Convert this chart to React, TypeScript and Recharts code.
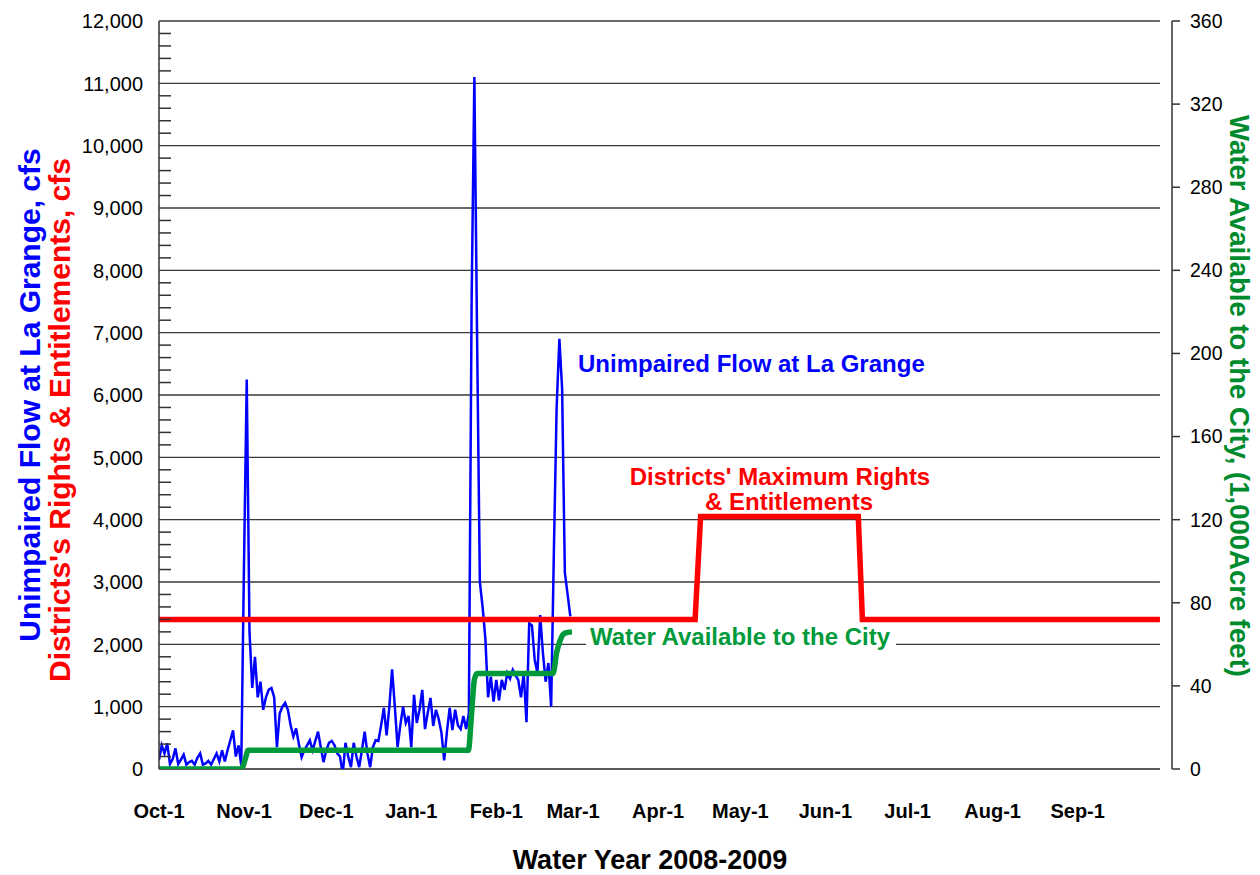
import React from 'react';
import { ComposedChart, Line, Area, XAxis, YAxis, ReferenceLine } from 'recharts';

document.body.style.margin = '0';

const FONT = '"Liberation Sans", Arial, Helvetica, sans-serif';

// x axis: days since Oct-1, water year 2008-2009
const monthTicks = [0, 31, 61, 92, 123, 151, 182, 212, 243, 273, 304, 335];
const monthLabels = ['Oct-1', 'Nov-1', 'Dec-1', 'Jan-1', 'Feb-1', 'Mar-1', 'Apr-1', 'May-1', 'Jun-1', 'Jul-1', 'Aug-1', 'Sep-1'];

// unimpaired flow at La Grange, cfs, one value per day from Oct-1
const flowCfs = [
  150, 380, 250, 410, 80, 160, 330, 80, 150, 230,
  70, 110, 130, 70, 180, 250, 70, 90, 130, 70,
  160, 250, 120, 300, 120, 300, 460, 620, 200, 380,
  60, 3300, 6250, 2200, 1300, 1800, 1150, 1400, 950, 1150,
  1270, 1300, 1150, 350, 890, 1000, 1060, 950, 700, 520,
  650, 400, 190, 300, 380, 460, 300, 450, 600, 350,
  110, 300, 420, 450, 380, 250, 200, -80, 420, 200,
  30, 420, 200, 30, 300, 600, 250, 30, 350, 460,
  450, 700, 980, 540, 1000, 1600, 1000, 350, 700, 1000,
  740, 850, 350, 1190, 740, 950, 1270, 640, 900, 1140,
  690, 950, 800, 580, 140, 600, 980, 625, 950, 700,
  640, 850, 640, 900, 7500, 11100, 6900, 3000, 2600, 2100,
  1150, 1480, 1080, 1430, 1100, 1430, 1270, 1540, 1450, 1590,
  1500, 1430, 1150, 1540, 750, 2340, 2300, 1750, 1540, 2470,
  1860, 1400, 1700, 1000, 3500, 5800, 6900, 6100, 3150, 2800,
  2450,
];

// districts' maximum rights & entitlements, cfs
const rightsDays = [0, 195.5, 197.5, 255, 256.5, 365];
const rightsCfs = [2400, 2400, 4050, 4050, 2400, 2400];

// water available to the city, 1,000 acre feet
const cityDays = [0, 30, 31.5, 32.5, 112.8, 114, 115, 116, 143.7, 145, 146.3, 148, 150.6];
const cityKaf = [0, 0, 5, 9, 9, 27, 43, 46, 46, 56, 62, 65.4, 66];

const leftMajorTicks = [0, 1000, 2000, 3000, 4000, 5000, 6000, 7000, 8000, 9000, 10000, 11000, 12000];
const rightTicks = [0, 40, 80, 120, 160, 200, 240, 280, 320, 360];

const leftAllTicks: number[] = [];
for (let v = 0; v <= 12000; v += 200) leftAllTicks.push(v);

const rowsByDay = new Map<number, any>();
const put = (day: number, key: string, v: number) => {
  const r = rowsByDay.get(day) ?? { day };
  r[key] = v;
  rowsByDay.set(day, r);
};
flowCfs.forEach((v, i) => put(i, 'flow', v));
rightsDays.forEach((d, i) => put(d, 'rights', rightsCfs[i]));
cityDays.forEach((d, i) => put(d, 'city', cityKaf[i]));
const chartData = [...rowsByDay.values()].sort((a, b) => a.day - b.day);

const LEFT_GAP = 16;

const LeftTick = (props: any) => {
  const { x, y, payload } = props;
  const v = payload.value;
  if (v % 1000 !== 0) {
    const ax = x + LEFT_GAP;
    return <line x1={ax} x2={ax + 12} y1={y} y2={y} stroke="#333" strokeWidth={1.5} />;
  }
  return (
    <text x={x} y={y} dy="0.36em" textAnchor="end" fontSize={20} fontFamily={FONT} fill="#000">
      {v.toLocaleString('en-US')}
    </text>
  );
};

export default function App() {
  return (
    <div style={{ position: 'relative', width: 1260, height: 875, background: '#fff' }}>
      <ComposedChart width={1260} height={875} data={chartData} margin={{ top: 21, right: 0, bottom: 0, left: 0 }}>
        <XAxis
          dataKey="day"
          type="number"
          domain={[0, 369.4]}
          ticks={monthTicks}
          interval={0}
          tickFormatter={(d: number) => monthLabels[monthTicks.indexOf(d)]}
          axisLine={false}
          tickLine={false}
          tickSize={0}
          tickMargin={35}
          height={106}
          allowDataOverflow
          tick={{ fill: '#000', fontSize: 20, fontWeight: 'bold', fontFamily: FONT }}
        />
        <YAxis
          yAxisId="left"
          domain={[0, 12000]}
          ticks={leftAllTicks}
          interval={0}
          width={159}
          tickSize={0}
          tickMargin={LEFT_GAP}
          tickLine={false}
          axisLine={{ stroke: '#333', strokeWidth: 1.5 }}
          tick={<LeftTick />}
          allowDataOverflow
        />
        <YAxis
          yAxisId="right"
          orientation="right"
          domain={[0, 360]}
          ticks={rightTicks}
          interval={0}
          width={88}
          tickSize={8}
          tickMargin={10}
          axisLine={{ stroke: '#333', strokeWidth: 1.5 }}
          tickLine={{ stroke: '#333', strokeWidth: 1.5 }}
          tick={{ fill: '#000', fontSize: 19.5, fontFamily: FONT }}
          allowDataOverflow
        />
        {leftMajorTicks.slice(1).map((v) => (
          <ReferenceLine
            key={v}
            yAxisId="left"
            segment={[{ x: 0, y: v }, { x: 365, y: v }]}
            stroke="#3a3a3a"
            strokeWidth={1.3}
          />
        ))}
        <Area
          yAxisId="right"
          dataKey="city"
          type="monotone"
          fill="#fff"
          fillOpacity={1}
          stroke="none"
          connectNulls
          activeDot={false}
          isAnimationActive={false}
        />
        <ReferenceLine yAxisId="left" segment={[{ x: 0, y: 0 }, { x: 365, y: 0 }]} stroke="#222" strokeWidth={1.5} />
        <Line
          yAxisId="left"
          dataKey="flow"
          type="linear"
          stroke="#0000ff"
          strokeWidth={2.5}
          dot={false}
          activeDot={false}
          connectNulls
          isAnimationActive={false}
        />
        <Line
          yAxisId="right"
          dataKey="city"
          type="monotone"
          stroke="#009a3a"
          strokeWidth={5.5}
          dot={false}
          activeDot={false}
          connectNulls
          isAnimationActive={false}
        />
        <Line
          yAxisId="left"
          dataKey="rights"
          type="linear"
          stroke="#ff0000"
          strokeWidth={5.5}
          dot={false}
          activeDot={false}
          connectNulls
          isAnimationActive={false}
        />
      </ComposedChart>
      <svg
        width={1260}
        height={875}
        style={{ position: 'absolute', left: 0, top: 0, pointerEvents: 'none' }}
        fontFamily={FONT}
        fontWeight="bold"
      >
        <text transform="translate(29,395) rotate(-90)" textAnchor="middle" dy="0.35em" fontSize={30} fill="#0000ff">
          Unimpaired Flow at La Grange, cfs
        </text>
        <text transform="translate(59,420) rotate(-90)" textAnchor="middle" dy="0.35em" fontSize={30} fill="#ff0000">
          Districts's Rights &amp; Entitlements, cfs
        </text>
        <text transform="translate(1240,396) rotate(90)" textAnchor="middle" dy="0.35em" fontSize={27.5} fill="#008a2e">
          Water Available to the City, (1,000Acre feet)
        </text>
        <text x={650} y={869} textAnchor="middle" fontSize={27} fill="#000">
          Water Year 2008-2009
        </text>
        <text x={578} y={372} fontSize={24} fill="#0000ff">
          Unimpaired Flow at La Grange
        </text>
        <text x={780} y={485} textAnchor="middle" fontSize={24} fill="#ff0000">
          Districts' Maximum Rights
        </text>
        <text x={789} y={510} textAnchor="middle" fontSize={24} fill="#ff0000">
          &amp; Entitlements
        </text>
        <rect x={586} y={624} width={310} height={28} fill="#fff" />
        <text x={590} y={645} fontSize={24} fill="#009a3a">
          Water Available to the City
        </text>
      </svg>
    </div>
  );
}
